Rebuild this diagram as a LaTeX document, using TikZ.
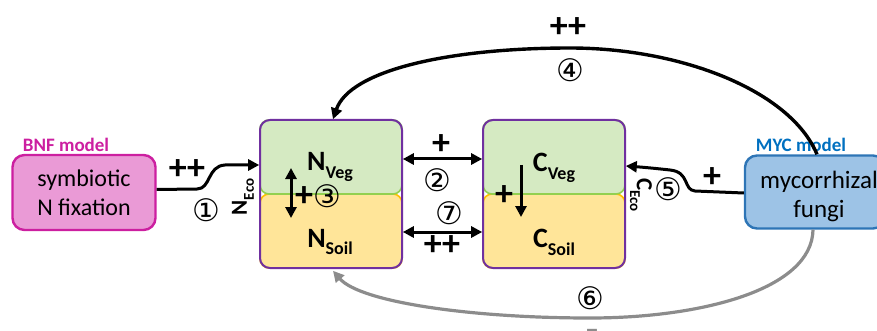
\documentclass[tikz,border=0pt]{standalone}
\usepackage{fontspec}
\setmainfont{Carlito}
\newfontfamily\circfont{DejaVu Sans}
\usetikzlibrary{arrows.meta}
\definecolor{vegfill}{HTML}{D5EAC2}
\definecolor{vegline}{HTML}{92D050}
\definecolor{soilfill}{HTML}{FFE599}
\definecolor{soilline}{HTML}{FFC000}
\definecolor{boxline}{HTML}{7030A0}
\definecolor{bnffill}{HTML}{EA9AD6}
\definecolor{bnfline}{HTML}{CC1FA0}
\definecolor{mycfill}{HTML}{9DC3E6}
\definecolor{mycline}{HTML}{2E75B6}
\definecolor{myctext}{HTML}{0070C0}
\definecolor{greyarrow}{HTML}{8C8C8C}
\newcommand{\poolname}[2]{\textbf{\fontsize{28}{28}\selectfont #1\raisebox{-0.28em}{\fontsize{18}{18}\selectfont #2}}}
\newcommand{\econame}[2]{\textbf{\fontsize{23}{23}\selectfont #1\raisebox{-0.3em}{\fontsize{15}{15}\selectfont #2}}}
\begin{document}
\begin{tikzpicture}[x=1pt,y=-1pt,
  half/.style={rectangle, rounded corners=9pt, minimum width=142pt, minimum height=74pt, line width=1.6pt, inner sep=0pt},
  vegbox/.style={half, fill=vegfill, draw=vegline},
  soilbox/.style={half, fill=soilfill, draw=soilline},
  outerbox/.style={rectangle, rounded corners=10pt, minimum width=142pt, minimum height=148pt, line width=2pt, draw=boxline, inner sep=0pt},
  modelbox/.style={rectangle, rounded corners=12pt, line width=2.4pt, inner sep=0pt, align=center, font=\fontsize{24}{29}\selectfont},
  modellabel/.style={font=\bfseries\fontsize{19}{19}\selectfont, inner sep=0pt},
  sign/.style={font=\bfseries\fontsize{36}{36}\selectfont, inner sep=0pt},
  num/.style={font=\circfont\fontsize{31}{31}\selectfont, inner sep=0pt},
  flow/.style={line width=3pt, -{Triangle[length=11pt,width=11pt]}},
  twoflow/.style={line width=3pt, {Triangle[length=11pt,width=11pt]}-{Triangle[length=11pt,width=11pt]}},
  txt/.style={inner sep=0pt}
]
\useasboundingbox (0,0) rectangle (877,331);

% pools
\node[soilbox] (nsoil) at (331,231) {};
\node[vegbox] (nveg) at (331,157) {};
\node[outerbox] (nbox) at (331,194) {};
\node[soilbox] (csoil) at (554,231) {};
\node[vegbox] (cveg) at (554,157) {};
\node[outerbox] (cbox) at (554,194) {};

\node[txt] (nvegt) at (330,167) {\poolname{N}{Veg}};
\node[txt] (nsoilt) at (330,242) {\poolname{N}{Soil}};
\node[txt] (cvegt) at (554,168) {\poolname{C}{Veg}};
\node[txt] (csoilt) at (554,242) {\poolname{C}{Soil}};

% models
\node[modelbox, fill=bnffill, draw=bnfline, minimum width=143pt, minimum height=75pt] (bnf) at (84,192.5) {symbiotic\\N fixation};
\node[modellabel, text=bnfline] (bnfl) at (66,145) {BNF model};
\node[modelbox, fill=mycfill, draw=mycline, minimum width=140pt, minimum height=73pt] (myc) at (815,192) {};
\node[txt, align=center, font=\fontsize{25}{29}\selectfont] (myct) at (819,196) {mycorrhizal\\fungi};
\node[modellabel, text=myctext] (mycl) at (801,145) {MYC model};

% arrow 1
\draw[flow] ([yshift=3pt]bnf.east) -- (197,189) .. controls (211,189) and (207,166) .. (225,165) -- ([yshift=-8pt]nveg.west);
\node[sign] (s1) at (187,170) {++};
\node[num] (n1) at (206,210) {①};
\node[txt, rotate=90] (neco) at (243,197) {\econame{N}{Eco}};

% arrow 2 and 7
\draw[twoflow] ([yshift=-2pt]nveg.east) -- ([yshift=-2pt]cveg.west);
\node[sign] (s2) at (441,145) {+};
\node[num] (n2) at (437,180) {②};
\draw[twoflow] ([yshift=-1pt]nsoil.east) -- ([yshift=-1pt]csoil.west);
\node[num] (n7) at (449,213) {⑦};
\node[sign] (s7) at (442,246) {++};

% arrow 3
\coordinate (a3t) at (291,168);
\coordinate (a3b) at (291,218);
\draw[twoflow] (a3t) -- (a3b);
\node[sign] (s3) at (304,197) {+};
\node[num] (n3) at (327,196) {③};

% carbon internal arrow
\coordinate (cat) at (521,165);
\coordinate (cab) at (521,217);
\draw[flow] (cat) -- (cab);
\node[sign] (sc) at (504,196) {+};

% arrow 5
\draw[flow] ([yshift=-1pt]myc.west) -- (695,191) .. controls (683,190) and (690,172) .. (670,170) .. controls (652,168) and (640,167) .. ([yshift=-9pt]cveg.east);
\node[sign] (s5) at (712,178) {+};
\node[num] (n5) at (668,189) {⑤};
\node[txt, rotate=-90] (ceco) at (641,195) {\econame{C}{Eco}};

% arrow 4
\draw[flow, line width=3.4pt] ([xshift=2pt]myc.north) .. controls (790,90) and (680,48) .. (570,48) .. controls (450,48) and (350,70) .. ([xshift=2pt]nveg.north);
\node[sign] (s4) at (568,28) {++};
\node[num] (n4) at (570,70) {④};

% arrow 6
\draw[flow, draw=greyarrow, line width=3.2pt] ([xshift=-2pt]myc.south) .. controls (812,290) and (700,318) .. (590,318) .. controls (470,318) and (360,302) .. ([xshift=2pt,yshift=-2pt]nsoil.south);
\node[num] (n6) at (590,298) {⑥};
\node[txt, anchor=base, text=greyarrow, font=\bfseries\fontsize{28}{28}\selectfont] (s6) at (592,338) {--};
\end{tikzpicture}
\end{document}
